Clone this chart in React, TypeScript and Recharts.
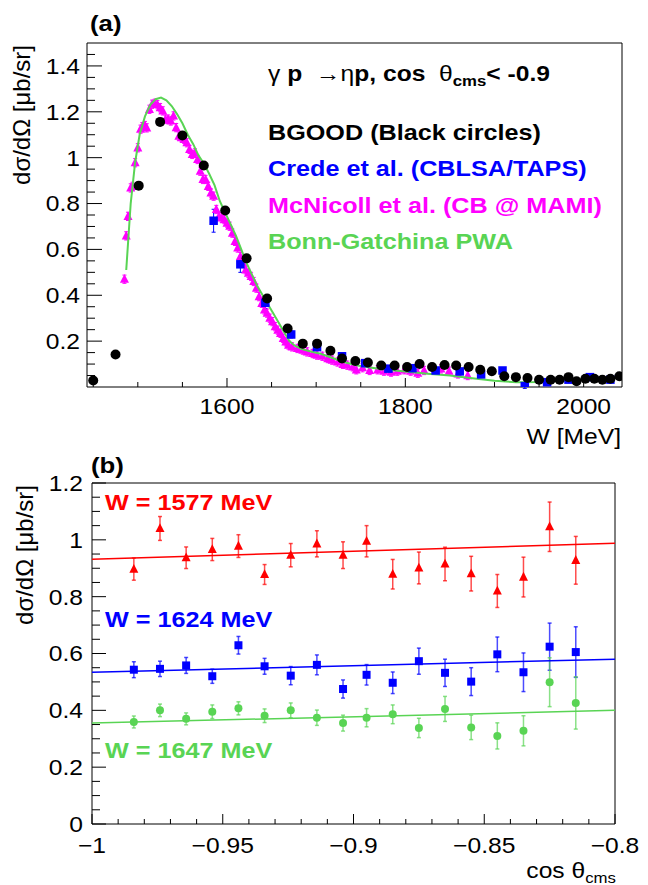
import React from 'react'
import { ScatterChart, Scatter, XAxis, YAxis, ErrorBar, ReferenceArea } from 'recharts'

const FONT = '"Liberation Sans", Arial, Helvetica, sans-serif'
const SX = 1.12

const BLACK = '#000000'
const BLUE = '#0000ff'
const MAGENTA = '#ff00ff'
const GREEN = '#59d454'
const RED = '#ff0000'

// ---- panel (a): cross section vs W ----
const bgoodW = [1450, 1475, 1501, 1525, 1550, 1574, 1598, 1622, 1645, 1668, 1685, 1701, 1716, 1729, 1744, 1758, 1773, 1788, 1802, 1816, 1830, 1844, 1857, 1871, 1884, 1897, 1911, 1924, 1937, 1950, 1963, 1973, 1983, 1992, 2002, 2012, 2021, 2030, 2040]
const bgoodY = [0.028, 0.142, 0.878, 1.156, 1.097, 0.966, 0.770, 0.561, 0.386, 0.255, 0.189, 0.189, 0.158, 0.124, 0.113, 0.107, 0.094, 0.094, 0.087, 0.100, 0.087, 0.096, 0.094, 0.087, 0.075, 0.069, 0.047, 0.043, 0.039, 0.032, 0.032, 0.032, 0.043, 0.025, 0.036, 0.036, 0.032, 0.036, 0.047]

const credeW = [1585, 1615, 1643, 1672, 1701, 1729, 1755, 1781, 1808, 1834, 1861, 1885, 1909, 1934, 1959, 1983, 2007, 2030]
const credeY = [0.725, 0.535, 0.367, 0.229, 0.174, 0.134, 0.104, 0.080, 0.082, 0.072, 0.068, 0.055, 0.072, 0.004, 0.021, 0.032, 0.043, 0.032]
const credeErr = [0.05, 0.035, 0.025, 0.015, 0.012, 0.01, 0.01, 0.01, 0.01, 0.01, 0.01, 0.01, 0.01, 0.01, 0.01, 0.01, 0.01, 0.01]

const mcW = [1485, 1487, 1489, 1492, 1494, 1497, 1500, 1503, 1505, 1508, 1510, 1513, 1516, 1519, 1522, 1525, 1528, 1531, 1534, 1537, 1540, 1543, 1546, 1549, 1552, 1555, 1558, 1561, 1564, 1567, 1570, 1573, 1576, 1579, 1582, 1585, 1588, 1591, 1594, 1597, 1600, 1603, 1606, 1609, 1612, 1615, 1618, 1621, 1624, 1627, 1630, 1633, 1636, 1639, 1642, 1645, 1648, 1651, 1654, 1657, 1660, 1663, 1666, 1669, 1673, 1679, 1685, 1690, 1696, 1701, 1707, 1713, 1718, 1724, 1730, 1735, 1741, 1745, 1752, 1760, 1769, 1776, 1784, 1791, 1799, 1806, 1814, 1821, 1831, 1840, 1849, 1859, 1870]
const mcY = [0.470, 0.659, 0.744, 0.868, 0.875, 0.978, 1.043, 1.124, 1.135, 1.140, 1.130, 1.211, 1.233, 1.237, 1.231, 1.218, 1.204, 1.168, 1.168, 1.160, 1.182, 1.131, 1.094, 1.087, 1.080, 1.065, 1.036, 1.014, 1.021, 0.992, 0.941, 0.905, 0.905, 0.875, 0.846, 0.832, 0.774, 0.744, 0.737, 0.730, 0.715, 0.701, 0.671, 0.635, 0.606, 0.569, 0.540, 0.511, 0.496, 0.482, 0.460, 0.431, 0.394, 0.365, 0.336, 0.322, 0.300, 0.285, 0.263, 0.248, 0.234, 0.212, 0.197, 0.183, 0.175, 0.168, 0.161, 0.153, 0.146, 0.139, 0.134, 0.124, 0.117, 0.109, 0.099, 0.095, 0.088, 0.075, 0.084, 0.072, 0.075, 0.069, 0.065, 0.069, 0.075, 0.069, 0.060, 0.072, 0.084, 0.079, 0.069, 0.057, 0.050]
const mcErr = 0.018

const bnW = [1487, 1492, 1497, 1502, 1508, 1514, 1520, 1526, 1532, 1538, 1544, 1550, 1556, 1562, 1568, 1574, 1580, 1586, 1592, 1598, 1604, 1610, 1616, 1622, 1628, 1634, 1640, 1646, 1652, 1658, 1664, 1670, 1676, 1684, 1694, 1705, 1716, 1730, 1745, 1760, 1780, 1800, 1825, 1850, 1875, 1900, 1925, 1950, 1975, 2000, 2020, 2040]
const bnY = [0.51, 0.80, 0.98, 1.10, 1.18, 1.23, 1.255, 1.262, 1.25, 1.225, 1.19, 1.15, 1.10, 1.06, 1.01, 0.975, 0.93, 0.88, 0.81, 0.76, 0.71, 0.66, 0.60, 0.54, 0.49, 0.44, 0.40, 0.36, 0.32, 0.28, 0.24, 0.20, 0.18, 0.165, 0.155, 0.145, 0.13, 0.11, 0.095, 0.085, 0.075, 0.068, 0.058, 0.05, 0.038, 0.027, 0.021, 0.022, 0.027, 0.033, 0.037, 0.040]

// ---- panel (b): cross section vs cos theta ----
const cosX = [-0.984, -0.974, -0.964, -0.954, -0.944, -0.934, -0.924, -0.914, -0.904, -0.895, -0.885, -0.875, -0.865, -0.855, -0.845, -0.835, -0.825, -0.815]
const w1577 = [0.897, 1.040, 0.937, 0.966, 0.978, 0.878, 0.946, 0.986, 0.946, 0.995, 0.879, 0.901, 0.915, 0.881, 0.820, 0.869, 1.046, 0.928]
const w1577Err = [0.039, 0.042, 0.038, 0.039, 0.040, 0.035, 0.041, 0.046, 0.047, 0.055, 0.052, 0.056, 0.059, 0.061, 0.058, 0.070, 0.087, 0.084]
const w1624 = [0.543, 0.546, 0.558, 0.520, 0.629, 0.555, 0.522, 0.560, 0.475, 0.525, 0.497, 0.573, 0.532, 0.501, 0.597, 0.534, 0.624, 0.605]
const w1624Err = [0.028, 0.027, 0.028, 0.025, 0.031, 0.028, 0.032, 0.035, 0.032, 0.036, 0.038, 0.046, 0.048, 0.049, 0.061, 0.068, 0.083, 0.089]
const w1647 = [0.359, 0.400, 0.370, 0.395, 0.407, 0.381, 0.400, 0.374, 0.355, 0.374, 0.386, 0.338, 0.405, 0.340, 0.310, 0.328, 0.499, 0.426]
const w1647Err = [0.021, 0.022, 0.021, 0.024, 0.023, 0.024, 0.026, 0.027, 0.028, 0.032, 0.033, 0.034, 0.044, 0.043, 0.046, 0.053, 0.086, 0.092]

const fitX = [-1, -0.8]
const fit1577 = [0.932, 0.988]
const fit1624 = [0.534, 0.580]
const fit1647 = [0.355, 0.400]

// tick labels
const wMajors = [1600, 1800, 2000]
const yMajorsA = [0.2, 0.4, 0.6, 0.8, 1, 1.2, 1.4]
const cosMajors = [-1, -0.95, -0.9, -0.85, -0.8]
const yMajorsB = [0, 0.2, 0.4, 0.6, 0.8, 1, 1.2]

const steps = (a: number, b: number, s: number) => {
  const out: number[] = []
  for (let v = a; v <= b + 1e-9; v += s) out.push(Math.round(v * 1000) / 1000)
  return out
}

const pts = (xs: number[], ys: number[], es?: number[] | number) =>
  xs.map((x, i) => ({ x, y: ys[i], e: Array.isArray(es) ? es[i] : es ?? 0 }))

type TickCfg = { side: 'left' | 'bottom'; majors: number[]; gap: number; majorLen: number; minorLen: number }

const fmt = (v: number) => (v < 0 ? '\u2212' + String(Math.abs(v)) : String(v))

function renderTick(props: any, cfg: TickCfg) {
  const { x, y, payload } = props
  const v = payload.value
  const major = cfg.majors.some(m => Math.abs(m - v) < 1e-6)
  const len = major ? cfg.majorLen : cfg.minorLen
  if (cfg.side === 'left') {
    const ax = x + cfg.gap
    return (
      <g>
        <line x1={ax} y1={y} x2={ax + len} y2={y} stroke="#000" strokeWidth={1} />
        {major && (
          <text transform={`translate(${x},${y}) scale(${SX},1)`} textAnchor="end" dy="0.36em"
            fontSize={22} fontFamily={FONT} fill="#000">{fmt(v)}</text>
        )}
      </g>
    )
  }
  const ay = y - cfg.gap
  return (
    <g>
      <line x1={x} y1={ay} x2={x} y2={ay - len} stroke="#000" strokeWidth={1} />
      {major && (
        <text transform={`translate(${x},${y}) scale(${SX},1)`} textAnchor="middle" dy="0.36em"
          fontSize={22} fontFamily={FONT} fill="#000">{fmt(v)}</text>
      )}
    </g>
  )
}

const dot = (r: number, c: string) => (p: any) => <circle cx={p.cx} cy={p.cy} r={r} fill={c} />
const box = (s: number, c: string) => (p: any) => <rect x={p.cx - s / 2} y={p.cy - s / 2} width={s} height={s} fill={c} />
const tri = (s: number, c: string) => (p: any) => (
  <polygon points={`${p.cx},${p.cy - s * 0.58} ${p.cx - s / 2},${p.cy + s * 0.4} ${p.cx + s / 2},${p.cy + s * 0.4}`} fill={c} />
)
const none = () => <g />

function T(props: { x: number; y: number; size?: number; color?: string; bold?: boolean; anchor?: string; children: React.ReactNode }) {
  const { x, y, size = 22, color = '#000', bold = false, anchor = 'start', children } = props
  return (
    <text transform={`translate(${x},${y}) scale(${SX},1)`} fontSize={size} fontFamily={FONT}
      fontWeight={bold ? 700 : 400} fill={color} textAnchor={anchor as any} style={{ whiteSpace: 'pre' }}>
      {children}
    </text>
  )
}

function PanelA() {
  return (
    <ScatterChart width={648} height={440} margin={{ top: 43, right: 26, bottom: 13, left: 27 }}>
      <XAxis type="number" dataKey="x" domain={[1443, 2043]} allowDataOverflow ticks={steps(1450, 2000, 50)}
        interval={0} height={40} axisLine={false} tickLine={false} tickSize={0} tickMargin={19}
        tick={(p: any) => renderTick(p, { side: 'bottom', majors: wMajors, gap: 19, majorLen: 9, minorLen: 5 })} />
      <YAxis type="number" dataKey="y" domain={[0, 1.5]} allowDataOverflow ticks={steps(0.05, 1.45, 0.05)}
        interval={0} width={60} axisLine={false} tickLine={false} tickSize={0} tickMargin={7}
        tick={(p: any) => renderTick(p, { side: 'left', majors: yMajorsA, gap: 7, majorLen: 15, minorLen: 8 })} />
      <ReferenceArea x1={1443} x2={2043} y1={0} y2={1.5} fill="none" stroke="#000" strokeWidth={1} fillOpacity={0} />
      <Scatter data={pts(mcW, mcY, mcErr)} fill={MAGENTA} shape={tri(9, MAGENTA)} isAnimationActive={false}>
        <ErrorBar dataKey="e" direction="y" width={2} stroke={MAGENTA} strokeWidth={1} />
      </Scatter>
      <Scatter data={pts(bnW, bnY)} fill={GREEN} line={{ stroke: GREEN, strokeWidth: 2 }} shape={none} isAnimationActive={false} />
      <Scatter data={pts(credeW, credeY, credeErr)} fill={BLUE} shape={box(8.5, BLUE)} isAnimationActive={false}>
        <ErrorBar dataKey="e" direction="y" width={2} stroke={BLUE} strokeWidth={1} />
      </Scatter>
      <Scatter data={pts(bgoodW, bgoodY)} fill={BLACK} shape={dot(5, BLACK)} isAnimationActive={false} />
    </ScatterChart>
  )
}

function PanelB() {
  return (
    <ScatterChart width={648} height={445} margin={{ top: 43, right: 33, bottom: 21, left: 32 }}>
      <XAxis type="number" dataKey="x" domain={[-1, -0.8]} allowDataOverflow ticks={steps(-1, -0.8, 0.01)}
        interval={0} height={40} axisLine={false} tickLine={false} tickSize={0} tickMargin={21}
        tick={(p: any) => renderTick(p, { side: 'bottom', majors: cosMajors, gap: 21, majorLen: 10, minorLen: 5 })} />
      <YAxis type="number" dataKey="y" domain={[0, 1.2]} allowDataOverflow ticks={steps(0, 1.2, 0.05)}
        interval={0} width={60} axisLine={false} tickLine={false} tickSize={0} tickMargin={9}
        tick={(p: any) => renderTick(p, { side: 'left', majors: yMajorsB, gap: 9, majorLen: 14, minorLen: 8 })} />
      <ReferenceArea x1={-1} x2={-0.8} y1={0} y2={1.2} fill="none" stroke="#000" strokeWidth={1} fillOpacity={0} />
      <Scatter data={pts(fitX, fit1577)} fill={RED} line={{ stroke: RED, strokeWidth: 1.5 }} shape={none} isAnimationActive={false} />
      <Scatter data={pts(fitX, fit1624)} fill={BLUE} line={{ stroke: BLUE, strokeWidth: 1.5 }} shape={none} isAnimationActive={false} />
      <Scatter data={pts(fitX, fit1647)} fill={GREEN} line={{ stroke: GREEN, strokeWidth: 1.5 }} shape={none} isAnimationActive={false} />
      <Scatter data={pts(cosX, w1577, w1577Err)} fill={RED} shape={tri(9, RED)} isAnimationActive={false}>
        <ErrorBar dataKey="e" direction="y" width={2} stroke={RED} strokeOpacity={0.7} strokeWidth={1.5} />
      </Scatter>
      <Scatter data={pts(cosX, w1624, w1624Err)} fill={BLUE} shape={box(8, BLUE)} isAnimationActive={false}>
        <ErrorBar dataKey="e" direction="y" width={2} stroke={BLUE} strokeOpacity={0.7} strokeWidth={1.5} />
      </Scatter>
      <Scatter data={pts(cosX, w1647, w1647Err)} fill={GREEN} shape={dot(4, GREEN)} isAnimationActive={false}>
        <ErrorBar dataKey="e" direction="y" width={2} stroke={GREEN} strokeOpacity={0.7} strokeWidth={1.5} />
      </Scatter>
    </ScatterChart>
  )
}

export default function App() {
  return (
    <div style={{ position: 'absolute', left: 0, top: 0, width: 648, height: 885, background: '#fff' }}>
      <div style={{ position: 'absolute', left: 0, top: 0 }}><PanelA /></div>
      <div style={{ position: 'absolute', left: 0, top: 440 }}><PanelB /></div>
      <svg width={648} height={885} style={{ position: 'absolute', left: 0, top: 0, pointerEvents: 'none' }}>
        <T x={90} y={31} size={23} bold>(a)</T>
        <T x={91} y={473} size={23} bold>(b)</T>

        <T x={268} y={81} bold>
          <tspan fontWeight={400}>γ</tspan>{' p  '}<tspan fontWeight={400}>→η</tspan>{'p, cos  '}
          <tspan fontWeight={400}>θ</tspan><tspan fontSize={15} dy={5}>cms</tspan><tspan dy={-5}>{'< -0.9'}</tspan>
        </T>
        <T x={268} y={140} size={22.5} bold>BGOOD (Black circles)</T>
        <T x={268} y={176} size={22.5} bold color={BLUE}>Crede et al. (CBLSA/TAPS)</T>
        <T x={268} y={213} size={22.5} bold color={MAGENTA}>McNicoll et al. (CB @ MAMI)</T>
        <T x={268} y={249} size={22.5} bold color={GREEN}>Bonn-Gatchina PWA</T>

        <T x={621} y={444} anchor="end">W [MeV]</T>
        <T x={616} y={878} anchor="end">cos θ<tspan fontSize={15} dy={5}>cms</tspan></T>

        <text transform="translate(30,45) rotate(-90)" textAnchor="end" fontSize={24} fontFamily={FONT} fill="#000">dσ/dΩ [μb/sr]</text>
        <text transform="translate(33,485) rotate(-90)" textAnchor="end" fontSize={24} fontFamily={FONT} fill="#000">dσ/dΩ [μb/sr]</text>

        <T x={105} y={510} size={22.5} bold color={RED}>W = 1577 MeV</T>
        <T x={105} y={627} size={22.5} bold color={BLUE}>W = 1624 MeV</T>
        <T x={105} y={758} size={22.5} bold color={GREEN}>W = 1647 MeV</T>
      </svg>
    </div>
  )
}
